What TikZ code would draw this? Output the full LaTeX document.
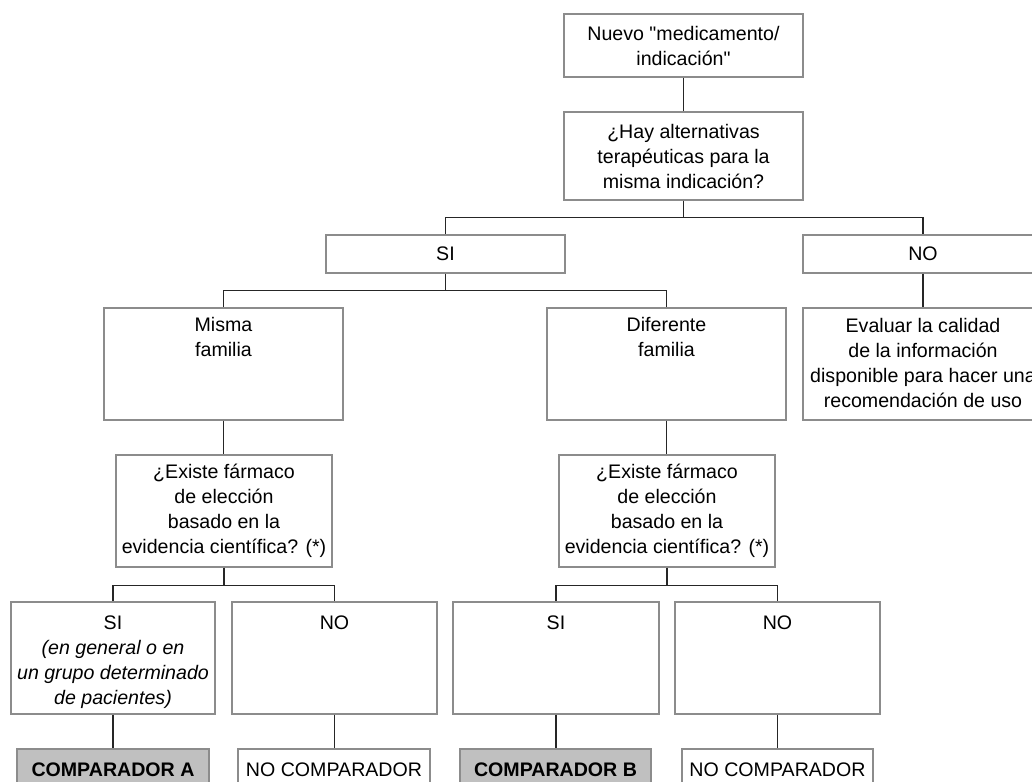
\documentclass[tikz,border=0pt]{standalone}
\usepackage{fontspec}
\setmainfont{Liberation Sans}[Ligatures=TeXOff]
\usetikzlibrary{calc}
\definecolor{boxgray}{HTML}{8C8C8C}
\definecolor{linegray}{HTML}{262626}
\definecolor{fillgray}{HTML}{C0C0C0}
\newcommand\diafont{\fontsize{14.7}{18.75}\selectfont}
\begin{document}
\begin{tikzpicture}[x=0.75pt,y=-0.75pt,
  box/.style={draw=boxgray, line width=1pt, fill=white, inner sep=0pt, align=center, font=\diafont},
  sz/.style 2 args={minimum width=#1*0.75pt, minimum height=#2*0.75pt},
  shaded/.style={box, fill=fillgray, font=\diafont\bfseries},
  txt/.style={inner sep=0pt, align=center, font=\diafont, anchor=north},
  conn/.style={draw=linegray, line width=1.05pt}]
\clip (0,0) rectangle (1032,782);
\fill[white] (0,0) rectangle (1032,782);
% boxes
\node[box, sz={239}{63}] (nuevo) at (683.5,45.5) {Nuevo "medicamento/\\indicación"};
\node[box, sz={239}{88}] (hay) at (683.5,156) {¿Hay alternativas\\terapéuticas para la\\misma indicación?};
\node[box, sz={239}{38}] (si) at (445.5,254) {SI};
\node[box, sz={240}{38}] (no) at (923,254) {NO};
\node[box, sz={239}{112}] (misma) at (223.5,364) {};
\node[box, sz={239}{112}] (dif) at (666.5,364) {};
\node[box, sz={240}{112}] (eval) at (923,364) {};
\node[box, sz={216}{112}] (ex1) at (224,511) {¿Existe fármaco\\de elección\\basado en la\\evidencia científica? (*)};
\node[box, sz={216}{112}] (ex2) at (667,511) {¿Existe fármaco\\de elección\\basado en la\\evidencia científica? (*)};
\node[box, sz={204}{112}] (si1) at (113,658) {};
\node[box, sz={205}{112}] (no1) at (334.5,658) {};
\node[box, sz={206}{112}] (si2) at (556,658) {};
\node[box, sz={205}{112}] (no2) at (777.5,658) {};
\node[shaded, sz={192}{41}] (compA) at (113,769.5) {COMPARADOR A};
\node[box, sz={192}{41}] (noc1) at (334,769.5) {NO COMPARADOR};
\node[shaded, sz={191}{41}] (compB) at (555.5,769.5) {COMPARADOR B};
\node[box, sz={191}{41}] (noc2) at (777.5,769.5) {NO COMPARADOR};
% top-aligned texts
\node[txt] (mismaT) at ($(misma.north)+(0,10)$) {Misma\\familia};
\node[txt] (difT) at ($(dif.north)+(0,10)$) {Diferente\\familia};
\node[txt] (evalT) at ($(eval.north)+(0,11)$) {Evaluar la calidad\\de la información\\disponible para hacer una\\recomendación de uso};
\node[txt] (si1T) at ($(si1.north)+(0,14)$) {SI\\\itshape (en general o en\\\itshape un grupo determinado\\\itshape de pacientes)};
\node[txt] (no1T) at ($(no1.north)+(0,14)$) {NO};
\node[txt] (si2T) at ($(si2.north)+(0,14)$) {SI};
\node[txt] (no2T) at ($(no2.north)+(0,14)$) {NO};
% connectors
\draw[conn] (nuevo.south) -- (hay.north);
\draw[conn] (hay.south) -- ++(0,17) coordinate (j1) -| (si.north);
\draw[conn] (j1) -| (no.north);
\draw[conn] (si.south) -- ++(0,17) coordinate (j2) -| (misma.north);
\draw[conn] (j2) -| (dif.north);
\draw[conn] (no.south) -- (eval.north);
\draw[conn] (misma.south) -- (misma.south |- ex1.north);
\draw[conn] (dif.south) -- (dif.south |- ex2.north);
\draw[conn] (ex1.south) -- ++(0,18) coordinate (j3) -| (si1.north);
\draw[conn] (j3) -| (no1.north);
\draw[conn] (ex2.south) -- ++(0,18) coordinate (j4) -| (si2.north);
\draw[conn] (j4) -| (no2.north);
\draw[conn] (si1.south) -- (si1.south |- compA.north);
\draw[conn] (no1.south) -- (no1.south |- noc1.north);
\draw[conn] (si2.south) -- (si2.south |- compB.north);
\draw[conn] (no2.south) -- (no2.south |- noc2.north);
\end{tikzpicture}
\end{document}
